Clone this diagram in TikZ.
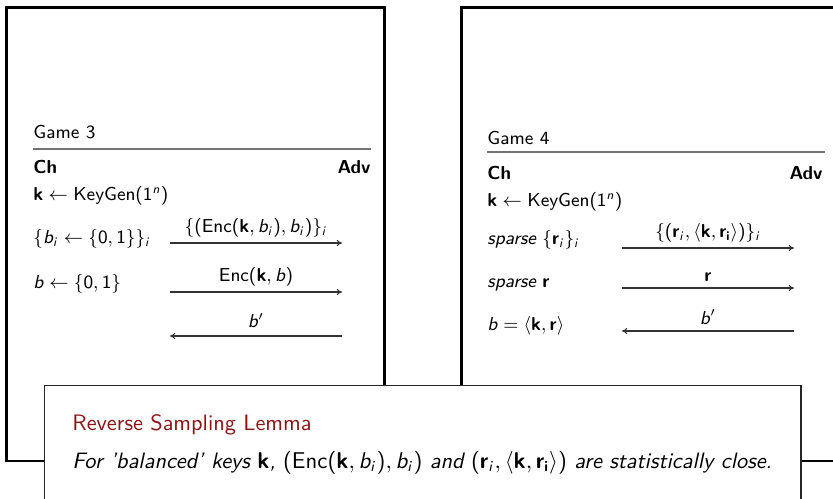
\documentclass[tikz,border=0pt]{standalone}
\usetikzlibrary{arrows.meta}
\DeclareSymbolFont{sfitletters}{OT1}{cmss}{m}{sl}
\DeclareMathSymbol{b}{\mathalpha}{sfitletters}{`b}
\DeclareMathSymbol{i}{\mathalpha}{sfitletters}{`i}
\DeclareMathSymbol{n}{\mathalpha}{sfitletters}{`n}
\SetSymbolFont{operators}{normal}{OT1}{cmss}{m}{n}
\SetMathAlphabet{\mathbf}{normal}{OT1}{cmss}{bx}{n}
\definecolor{lemmared}{rgb}{0.55,0.08,0.08}
\tikzset{
  frame/.style={draw=black, line width=1pt},
  lemmabox/.style={draw=black!85, line width=0.8pt, fill=white},
  titlerule/.style={draw=black!55, line width=0.8pt},
  txt/.style={anchor=base west, inner sep=0pt, font=\fontsize{9}{11}\selectfont\sffamily},
  txtr/.style={txt, anchor=base east},
  lbl/.style={txt, anchor=base},
  lemtxt/.style={anchor=base west, inner sep=0pt, font=\fontsize{10.7}{13}\selectfont\sffamily},
  msg/.style={draw=black!80, line width=0.5pt, -{To[length=2.5pt,width=3pt]}},
}
\begin{document}
\begin{tikzpicture}[x=0.48pt,y=-0.48pt]
\useasboundingbox (0,0) rectangle (833,499);
\clip (0,0) rectangle (833,499);
% frames
\draw[frame] (6.5,7.5) rectangle (384.5,461);
\draw[frame] (461.5,7.5) rectangle (900,461);
% Game 3
\node[txt] (g3) at (33,139) {Game 3};
\coordinate (r3a) at (33,149);
\coordinate (r3b) at (371,149);
\draw[titlerule] (r3a) -- (r3b);
\node[txt] (ch3) at (33,174) {\bfseries Ch};
\node[txtr] (adv3) at (371,174) {\bfseries Adv};
\node[txt] (kg3) at (33,201) {$\mathbf{k}\leftarrow\mathsf{KeyGen}(1^n)$};
\node[txt] (s31) at (33,244) {$\{b_i\leftarrow\{0,1\}\}_i$};
\node[txt] (s32) at (33,289) {$b\leftarrow\{0,1\}$};
\coordinate (a31s) at (170,243);
\coordinate (a31e) at (342,243);
\coordinate (a32s) at (170,292);
\coordinate (a32e) at (342,292);
\coordinate (a33s) at (342,336);
\coordinate (a33e) at (170,336);
\draw[msg] (a31s) -- (a31e);
\draw[msg] (a32s) -- (a32e);
\draw[msg] (a33s) -- (a33e);
\node[lbl] (l31) at (256,233) {$\{(\mathsf{Enc}(\mathbf{k},b_i),b_i)\}_i$};
\node[lbl] (l32) at (256,281) {$\mathsf{Enc}(\mathbf{k},b)$};
\node[lbl] (l33) at (256,328) {$b'$};
% Game 4
\node[txt] (g4) at (487,145) {Game 4};
\coordinate (r4a) at (487,152);
\coordinate (r4b) at (825,152);
\draw[titlerule] (r4a) -- (r4b);
\node[txt] (ch4) at (487,180) {\bfseries Ch};
\node[txtr] (adv4) at (823,180) {\bfseries Adv};
\node[txt] (kg4) at (487,207) {$\mathbf{k}\leftarrow\mathsf{KeyGen}(1^n)$};
\node[txt] (s41) at (487,245) {\itshape sparse $\{\mathbf{r}_i\}_i$};
\node[txt] (s42) at (487,288) {\itshape sparse $\mathbf{r}$};
\node[txt] (s43) at (487,330) {$b=\langle\mathbf{k},\mathbf{r}\rangle$};
\coordinate (a41s) at (622,248);
\coordinate (a41e) at (794,248);
\coordinate (a42s) at (622,288);
\coordinate (a42e) at (794,288);
\coordinate (a43s) at (794,331);
\coordinate (a43e) at (622,331);
\draw[msg] (a41s) -- (a41e);
\draw[msg] (a42s) -- (a42e);
\draw[msg] (a43s) -- (a43e);
\node[lbl] (l41) at (708,238) {$\{(\mathbf{r}_i,\langle\mathbf{k},\mathbf{r_i}\rangle)\}_i$};
\node[lbl] (l42) at (708,281) {$\mathbf{r}$};
\node[lbl] (l43) at (708,324) {$b'$};
% lemma
\draw[lemmabox] (44.5,385.5) rectangle (801,530);
\node[lemtxt, text=lemmared] (lt) at (72,430) {Reverse Sampling Lemma};
\node[lemtxt] (lb) at (72,468) {\itshape For 'balanced' keys $\mathbf{k}$, $(\mathsf{Enc}(\mathbf{k},b_i),b_i)$ and $(\mathbf{r}_i,\langle\mathbf{k},\mathbf{r_i}\rangle)$ are statistically close.};
\end{tikzpicture}
\end{document}
